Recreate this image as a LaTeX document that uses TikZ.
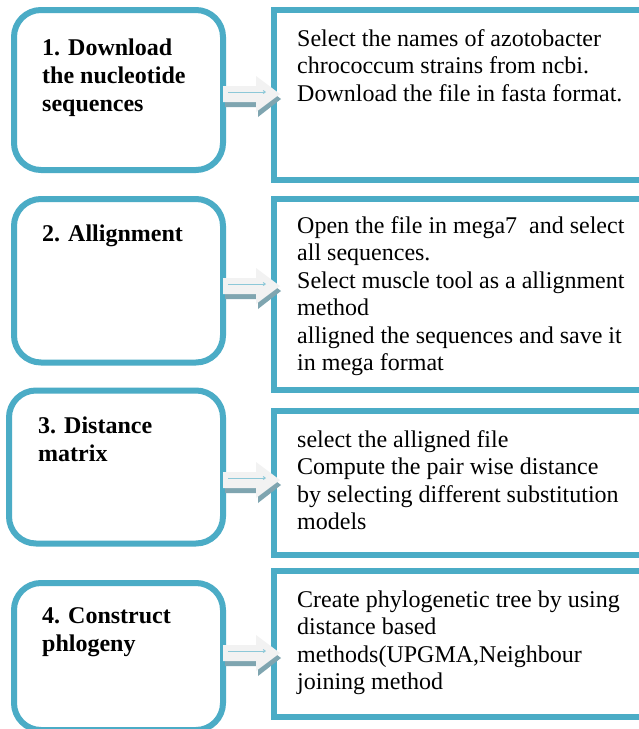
\documentclass[tikz,border=0pt]{standalone}
\usepackage{fontspec}
\setmainfont{Liberation Serif}
\usetikzlibrary{calc,arrows.meta}
\definecolor{boxteal}{HTML}{4BACC6}
\definecolor{arrowshade}{HTML}{7FA5B0}
\definecolor{arrowbody}{HTML}{F2F2F2}
\definecolor{arrowline}{HTML}{8CC8D8}

\begin{document}
\begin{tikzpicture}[x=1pt,y=-1pt]
    \tikzstyle{stage}=[draw=boxteal,line width=6pt,rounded corners=27pt,fill=white,inner sep=0]
    \tikzstyle{detail}=[draw=boxteal,line width=6pt,fill=white,inner sep=0]
    \tikzstyle{txt}=[anchor=base west,align=left,inner sep=0,font=\fontsize{24}{27.5}\selectfont]
    \tikzstyle{head}=[txt,font=\fontsize{24}{28}\selectfont\bfseries]

    \useasboundingbox[fill=white] (0,0) rectangle (639,729);

    % left boxes
    \node[stage,minimum width=209pt,minimum height=160pt](l1) at (118.5,90){};
    \node[stage,minimum width=209pt,minimum height=163.5pt](l2) at (118.5,280.75){};
    \node[stage,minimum width=214pt,minimum height=153pt](l3) at (116,467){};
    \node[stage,minimum width=209pt,minimum height=147pt](l4) at (118.5,656.5){};

    % right boxes
    \node[detail,minimum width=386pt,minimum height=170pt](r1) at (467,95){};
    \node[detail,minimum width=386pt,minimum height=191.5pt](r2) at (467,294.25){};
    \node[detail,minimum width=386pt,minimum height=144pt](r3) at (467,483){};
    \node[detail,minimum width=386pt,minimum height=146pt](r4) at (467,644){};

    % texts (base = last line)
    \node[head](t1) at (42,111){1. Download\\the nucleotide\\sequences};
    \node[head](t2) at (42,241){2. Allignment};
    \node[head](t3) at (38,461){3. Distance\\matrix};
    \node[head](t4) at (42,651){4. Construct\\phlogeny};

    \node[txt](d1) at (297,101){Select the names of azotobacter\\chrococcum strains from ncbi.\\Download the file in fasta format.};
    \node[txt](d2) at (297,370.5){Open the file in mega7~ and select\\all sequences.\\Select muscle tool as a allignment\\method\\alligned the sequences and save it\\in mega format};
    \node[txt](d3) at (297,529.5){select the alligned file\\Compute the pair wise distance\\by selecting different substitution\\models};
    \node[txt](d4) at (297,689.5){Create phylogenetic tree by using\\distance based\\methods(UPGMA,Neighbour\\joining method};

    % block arrows
    \foreach \l/\r/\y in {l1/r1/94,l2/r2/286,l3/r3/480,l4/r4/653}{
      \coordinate (s) at ($(\l.east |- 0,\y)+(-3,0)$);
      \coordinate (t) at ($(\r.west |- 0,\y)+(9,0)$);
      \fill[arrowshade] ($(s)+(2,-3)$) -- ($(t)+(-22,-3)$) -- ($(t)+(-22,-13)$) -- ($(t)+(1,5)$)
        -- ($(t)+(-22,23)$) -- ($(t)+(-22,13)$) -- ($(s)+(2,13)$) -- cycle;
      \fill[arrowbody] ($(s)+(0,-8)$) -- ($(t)+(-24,-8)$) -- ($(t)+(-24,-18)$) -- (t)
        -- ($(t)+(-24,18)$) -- ($(t)+(-24,8)$) -- ($(s)+(0,8)$) -- cycle;
      \draw[arrowline,line width=1pt,-{Straight Barb[length=2pt,width=3pt]}] ($(s)+(5,-2)$) -- ($(t)+(-14,-2)$);
    }
\end{tikzpicture}
\end{document}
